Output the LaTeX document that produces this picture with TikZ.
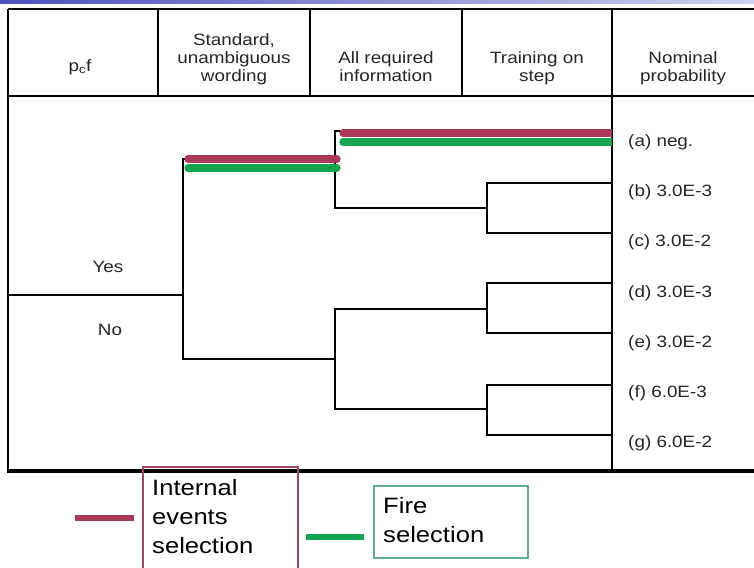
\documentclass[tikz,border=0pt]{standalone}
\usepackage{fontspec}
\setmainfont{Liberation Sans}[FakeStretch=1.15]
\usetikzlibrary{calc}
\definecolor{iecol}{RGB}{170,58,88}
\definecolor{ficol}{RGB}{18,165,80}
\definecolor{ieborder}{RGB}{160,70,100}
\definecolor{fiborder}{RGB}{90,175,150}
\begin{document}
\begin{tikzpicture}[x=0.03cm,y=-0.03cm,
  tline/.style={line width=1.6pt,black},
  bline/.style={line width=2.8pt,black},
  tree/.style={line width=1.5pt,black,line join=miter},
  iebar/.style={line width=6.2pt,iecol,line cap=round},
  fibar/.style={line width=6.2pt,ficol,line cap=round},
  hdr/.style={inner sep=0pt,align=center,text=black!85,font=\fontsize{14}{15.7}\selectfont},
  val/.style={inner sep=0pt,anchor=west,text=black!85,font=\fontsize{14}{16}\selectfont},
  yn/.style={inner sep=0pt,text=black!85,font=\fontsize{14}{16}\selectfont},
  lgtext/.style={inner sep=0pt,align=left,anchor=north west,font=\fontsize{19}{25}\selectfont}]
\clip (0,0) rectangle (754,568);
\fill[white] (0,0) rectangle (754,568);
% top blue strip
\shade[left color={rgb,255:red,80;green,80;blue,190}, right color={rgb,255:red,205;green,210;blue,238}] (0,0) rectangle (754,4);
% table frame
\draw[tline] (8,9) -- (760,9);
\draw[tline] (8,96) -- (760,96);
\draw[tline] (8,9) -- (8,471);
\draw[bline] (7,471) -- (760,471);
\draw[tline] (158,9) -- (158,96);
\draw[tline] (310,9) -- (310,96);
\draw[tline] (462,9) -- (462,96);
\draw[tline] (612,9) -- (612,471);
% headers
\node[hdr] (h1) at (80,67) {p\textsubscript{c}f};
\node[hdr,anchor=south] (h2) at (234,85.5) {Standard,\\unambiguous\\wording};
\node[hdr,anchor=south] (h3) at (386,85.5) {All required\\information\vphantom{g}};
\node[hdr,anchor=south] (h4) at (537,85.5) {Training on\\step\vphantom{g}};
\node[hdr,anchor=south] (h5) at (683,85.5) {Nominal\\probability};
% tree coordinates
\coordinate (root) at (8,295);
\coordinate (Am) at (183,295);
\coordinate (A1) at (183,159);
\coordinate (A2) at (183,359);
\coordinate (Bm) at (335,159);
\coordinate (B1) at (335,131);
\coordinate (B2) at (335,208);
\coordinate (Cm) at (487,208);
\coordinate (C1) at (487,183);
\coordinate (C2) at (487,233);
\coordinate (Dm) at (335,359);
\coordinate (D1) at (335,309);
\coordinate (D2) at (335,409);
\coordinate (Em) at (487,309);
\coordinate (E1) at (487,283);
\coordinate (E2) at (487,333);
\coordinate (Fm) at (487,409);
\coordinate (F1) at (487,385);
\coordinate (F2) at (487,435);
\coordinate (ea) at (612,131);
\coordinate (eb) at (612,183);
\coordinate (ec) at (612,233);
\coordinate (ed) at (612,283);
\coordinate (ee) at (612,333);
\coordinate (ef) at (612,385);
\coordinate (eg) at (612,435);
% tree
\draw[tree] (root) -- (Am);
\draw[tree] (Bm) -- (A1) -- (A2) -- (Dm);
\draw[tree] (ea) -- (B1) -- (B2) -- (Cm);
\draw[tree] (eb) -- (C1) -- (C2) -- (ec);
\draw[tree] (Em) -- (D1) -- (D2) -- (Fm);
\draw[tree] (ed) -- (E1) -- (E2) -- (ee);
\draw[tree] (ef) -- (F1) -- (F2) -- (eg);
% highlighted paths
\draw[iebar] ($(A1)+(5,0)$) -- ($(Bm)+(2,0)$);
\draw[fibar] ($(A1)+(5,9)$) -- ($(Bm)+(2,9)$);
\draw[iebar] ($(B1)+(8,2)$) -- ($(ea)+(-6,2)$);
\draw[fibar] ($(B1)+(8,11)$) -- ($(ea)+(-6,11)$);
\draw[line width=6.2pt,iecol] ($(ea)+(-7,2)$) -- ($(ea)+(0,2)$);
\draw[line width=6.2pt,ficol] ($(ea)+(-7,11)$) -- ($(ea)+(0,11)$);
% yes / no
\node[yn] (yes) at (108,267) {Yes};
\node[yn] (no) at (110,330) {No};
% outcome values
\node[val] (va) at (628,142) {(a) neg.};
\node[val] (vb) at (628,192) {(b) 3.0E-3};
\node[val] (vc) at (628,242) {(c) 3.0E-2};
\node[val] (vd) at (628,293) {(d) 3.0E-3};
\node[val] (ve) at (628,343) {(e) 3.0E-2};
\node[val] (vf) at (628,393) {(f) 6.0E-3};
\node[val] (vg) at (628,443) {(g) 6.0E-2};
% legend
\coordinate (ieL) at (75,518);
\coordinate (ieR) at (134,518);
\draw[line width=5pt,iecol] (ieL) -- (ieR);
\draw[line width=1.6pt,ieborder] (143,580) -- (143,467) -- (298,467) -- (298,580);
\node[lgtext] (ietext) at (152,479) {Internal\\events\\selection};
\coordinate (fiL) at (306,537);
\coordinate (fiR) at (364,537);
\draw[line width=5pt,ficol] (fiL) -- (fiR);
\draw[line width=1pt,fiborder] (374,486) rectangle (528,558);
\node[lgtext] (fitext) at (383,497) {Fire\\selection};
\end{tikzpicture}
\end{document}
